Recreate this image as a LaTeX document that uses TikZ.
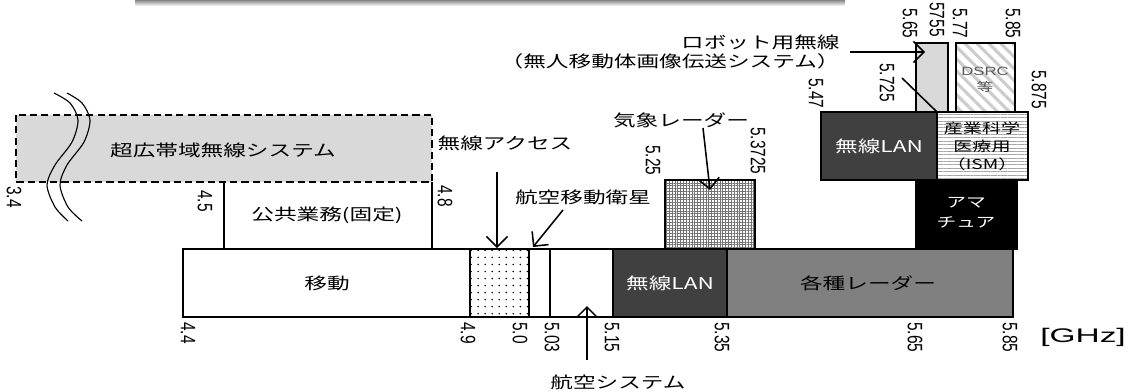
\documentclass[tikz,border=0pt]{standalone}
\usepackage{fontspec}
\setmainfont{Liberation Sans}
\newfontfamily\jp{Noto Sans CJK JP}
\usetikzlibrary{arrows.meta,patterns.meta}
\tikzset{
  band/.style={draw, line width=0.8pt},
  jplabel/.style={font=\jp\fontsize{11.5}{13.5}\selectfont, xscale=1.4, inner sep=0pt},
  jpsmall/.style={jplabel, font=\jp\fontsize{9.7}{12.8}\selectfont},
  freq/.style={font=\fontsize{11}{13}\selectfont, xscale=1.35, rotate=-90, anchor=west, inner sep=0pt},
  pointer/.style={line width=1.1pt, -{Straight Barb[length=7.5pt,width=15pt,line width=1.1pt]}},
}
\begin{document}
\begin{tikzpicture}[x=0.025cm, y=-0.025cm]
    \useasboundingbox (0,0) rectangle (1128,391);
    \shade[top color=black!55, bottom color=white] (135,-1) rectangle (845,6);

    % upper left part
    \draw[line width=1.1pt, dash pattern=on 5pt off 3pt, fill=black!15] (16,115) rectangle (432,182);
    \draw[band] (224,182) -- (224,249);
    \draw[band] (432,182) -- (432,249);
    \draw[line width=0.8pt] plot[smooth] coordinates {(54,93) (70,103) (78,120) (72,142) (55,165) (47,185) (55,207) (68,221)};
    \draw[line width=0.8pt] plot[smooth] coordinates {(67,93) (82,103) (90,120) (84,142) (67,165) (60,185) (68,207) (82,221)};

    % bottom band
    \draw[band, fill=white] (183,249) rectangle (470,317);
    \draw[band, pattern={Dots[distance=5pt,radius=0.6pt]}] (470,249) rectangle (529,317);
    \draw[band] (529,249) rectangle (550,317);
    \draw[band] (550,249) rectangle (613,317);
    \draw[band, fill=black!75] (613,249) rectangle (727,317);
    \draw[band, fill=black!50] (727,249) rectangle (1013,317);
    \draw[band, pattern={Hatch[distance=2pt,line width=0.5pt]}, pattern color=black!55] (665,180) rectangle (755,249);

    % right part
    \draw[band, fill=black!15] (916,43) rectangle (948,112);
    \draw[band, pattern={Lines[angle=-45,distance=6pt,line width=2.2pt]}, pattern color=black!20] (956,43) rectangle (1015,112);
    \draw[band, fill=black!75] (821,112) rectangle (937,180);
    \draw[band, pattern={Lines[angle=0,distance=2.4pt,line width=0.6pt]}, pattern color=black!35] (937,112) rectangle (1028,180);
    \draw[band, fill=black] (916,180) rectangle (1017,249);

    \node[jplabel] (uwb) at (223,150) {超広帯域無線システム};
    \node[jplabel] (pub) at (327,215) {公共業務(固定)};
    \node[jplabel] (mob) at (327,283) {移動};
    \node[jplabel, text=white] (lanlo) at (670,283) {無線LAN};
    \node[jplabel] (radar) at (868,283) {各種レーダー};
    \node[jplabel, text=white] (lanhi) at (879,146) {無線LAN};
    \node[jpsmall, align=center] (ism) at (982,146) {産業科学\\医療用\\（ISM）};
    \node[jplabel, font=\jp\fontsize{10}{14}\selectfont, text=white, align=center] (amateur) at (966,213) {アマ\\チュア};
    \node[font=\fontsize{8.5}{11}\selectfont, xscale=1.4, inner sep=0pt, text=black!65, align=center] (dsrc) at (985,80) {DSRC\\{\jp 等}};
    \node[jplabel] (access) at (505,143) {無線アクセス};
    \node[jplabel] (aerosat) at (583,197) {航空移動衛星};
    \node[jplabel] (meteo) at (681,120) {気象レーダー};
    \node[jplabel] (aero) at (618,382) {航空システム};
    \node[jplabel, anchor=east, align=right] (robot) at (840,52) {ロボット用無線\\（無人移動体画像伝送システム）};
    \node[font=\fontsize{14}{16}\selectfont, xscale=1.7, inner sep=0pt] (unit) at (1083,337) {[GHz]};

    \begin{scope}[every node/.style=freq]
        \node (f34) at (14,186) {3.4};
        \node (f45) at (205,190) {4.5};
        \node (f48) at (445,185) {4.8};
        \node (f44) at (188,322) {4.4};
        \node (f49) at (468,322) {4.9};
        \node (f50) at (520,322) {5.0};
        \node (f503) at (552,322) {5.03};
        \node (f515) at (612,322) {5.15};
        \node (f535) at (722,322) {5.35};
        \node (f565) at (915,322) {5.65};
        \node (f585) at (1010,322) {5.85};
        \node (f525) at (653,145) {5.25};
        \node (f53725) at (758,127) {5.3725};
        \node (f547) at (816,78) {5.47};
        \node (f5725) at (887,63) {5.725};
        \node (f5875) at (1039,70) {5.875};
        \node (t565) at (910,8) {5.65};
        \node (t5755) at (937,2) {5755};
        \node (t577) at (960,8) {5.77};
        \node (t585) at (1013,8) {5.85};
    \end{scope}

    \coordinate (accessTip) at (497,248);
    \coordinate (aerosatTail) at (563,210);
    \coordinate (aerosatTip) at (533,247);
    \coordinate (meteoTail) at (703,128);
    \coordinate (meteoTip) at (710,190);
    \coordinate (aeroTail) at (587,360);
    \coordinate (aeroTip) at (587,306);
    \coordinate (robotTip) at (925,52);
    \coordinate (leaderTail) at (902,78);
    \coordinate (ismCorner) at (937,112);

    \draw[pointer, shorten <=15pt] (access.south -| accessTip) -- (accessTip);
    \draw[pointer] (aerosatTail) -- (aerosatTip);
    \draw[pointer] (meteoTail) -- (meteoTip);
    \draw[pointer] (aeroTail) -- (aeroTip);
    \draw[pointer, shorten <=7pt] (robot.east) -- (robotTip);
    \draw[line width=1.1pt] (leaderTail) -- (ismCorner);
\end{tikzpicture}
\end{document}
